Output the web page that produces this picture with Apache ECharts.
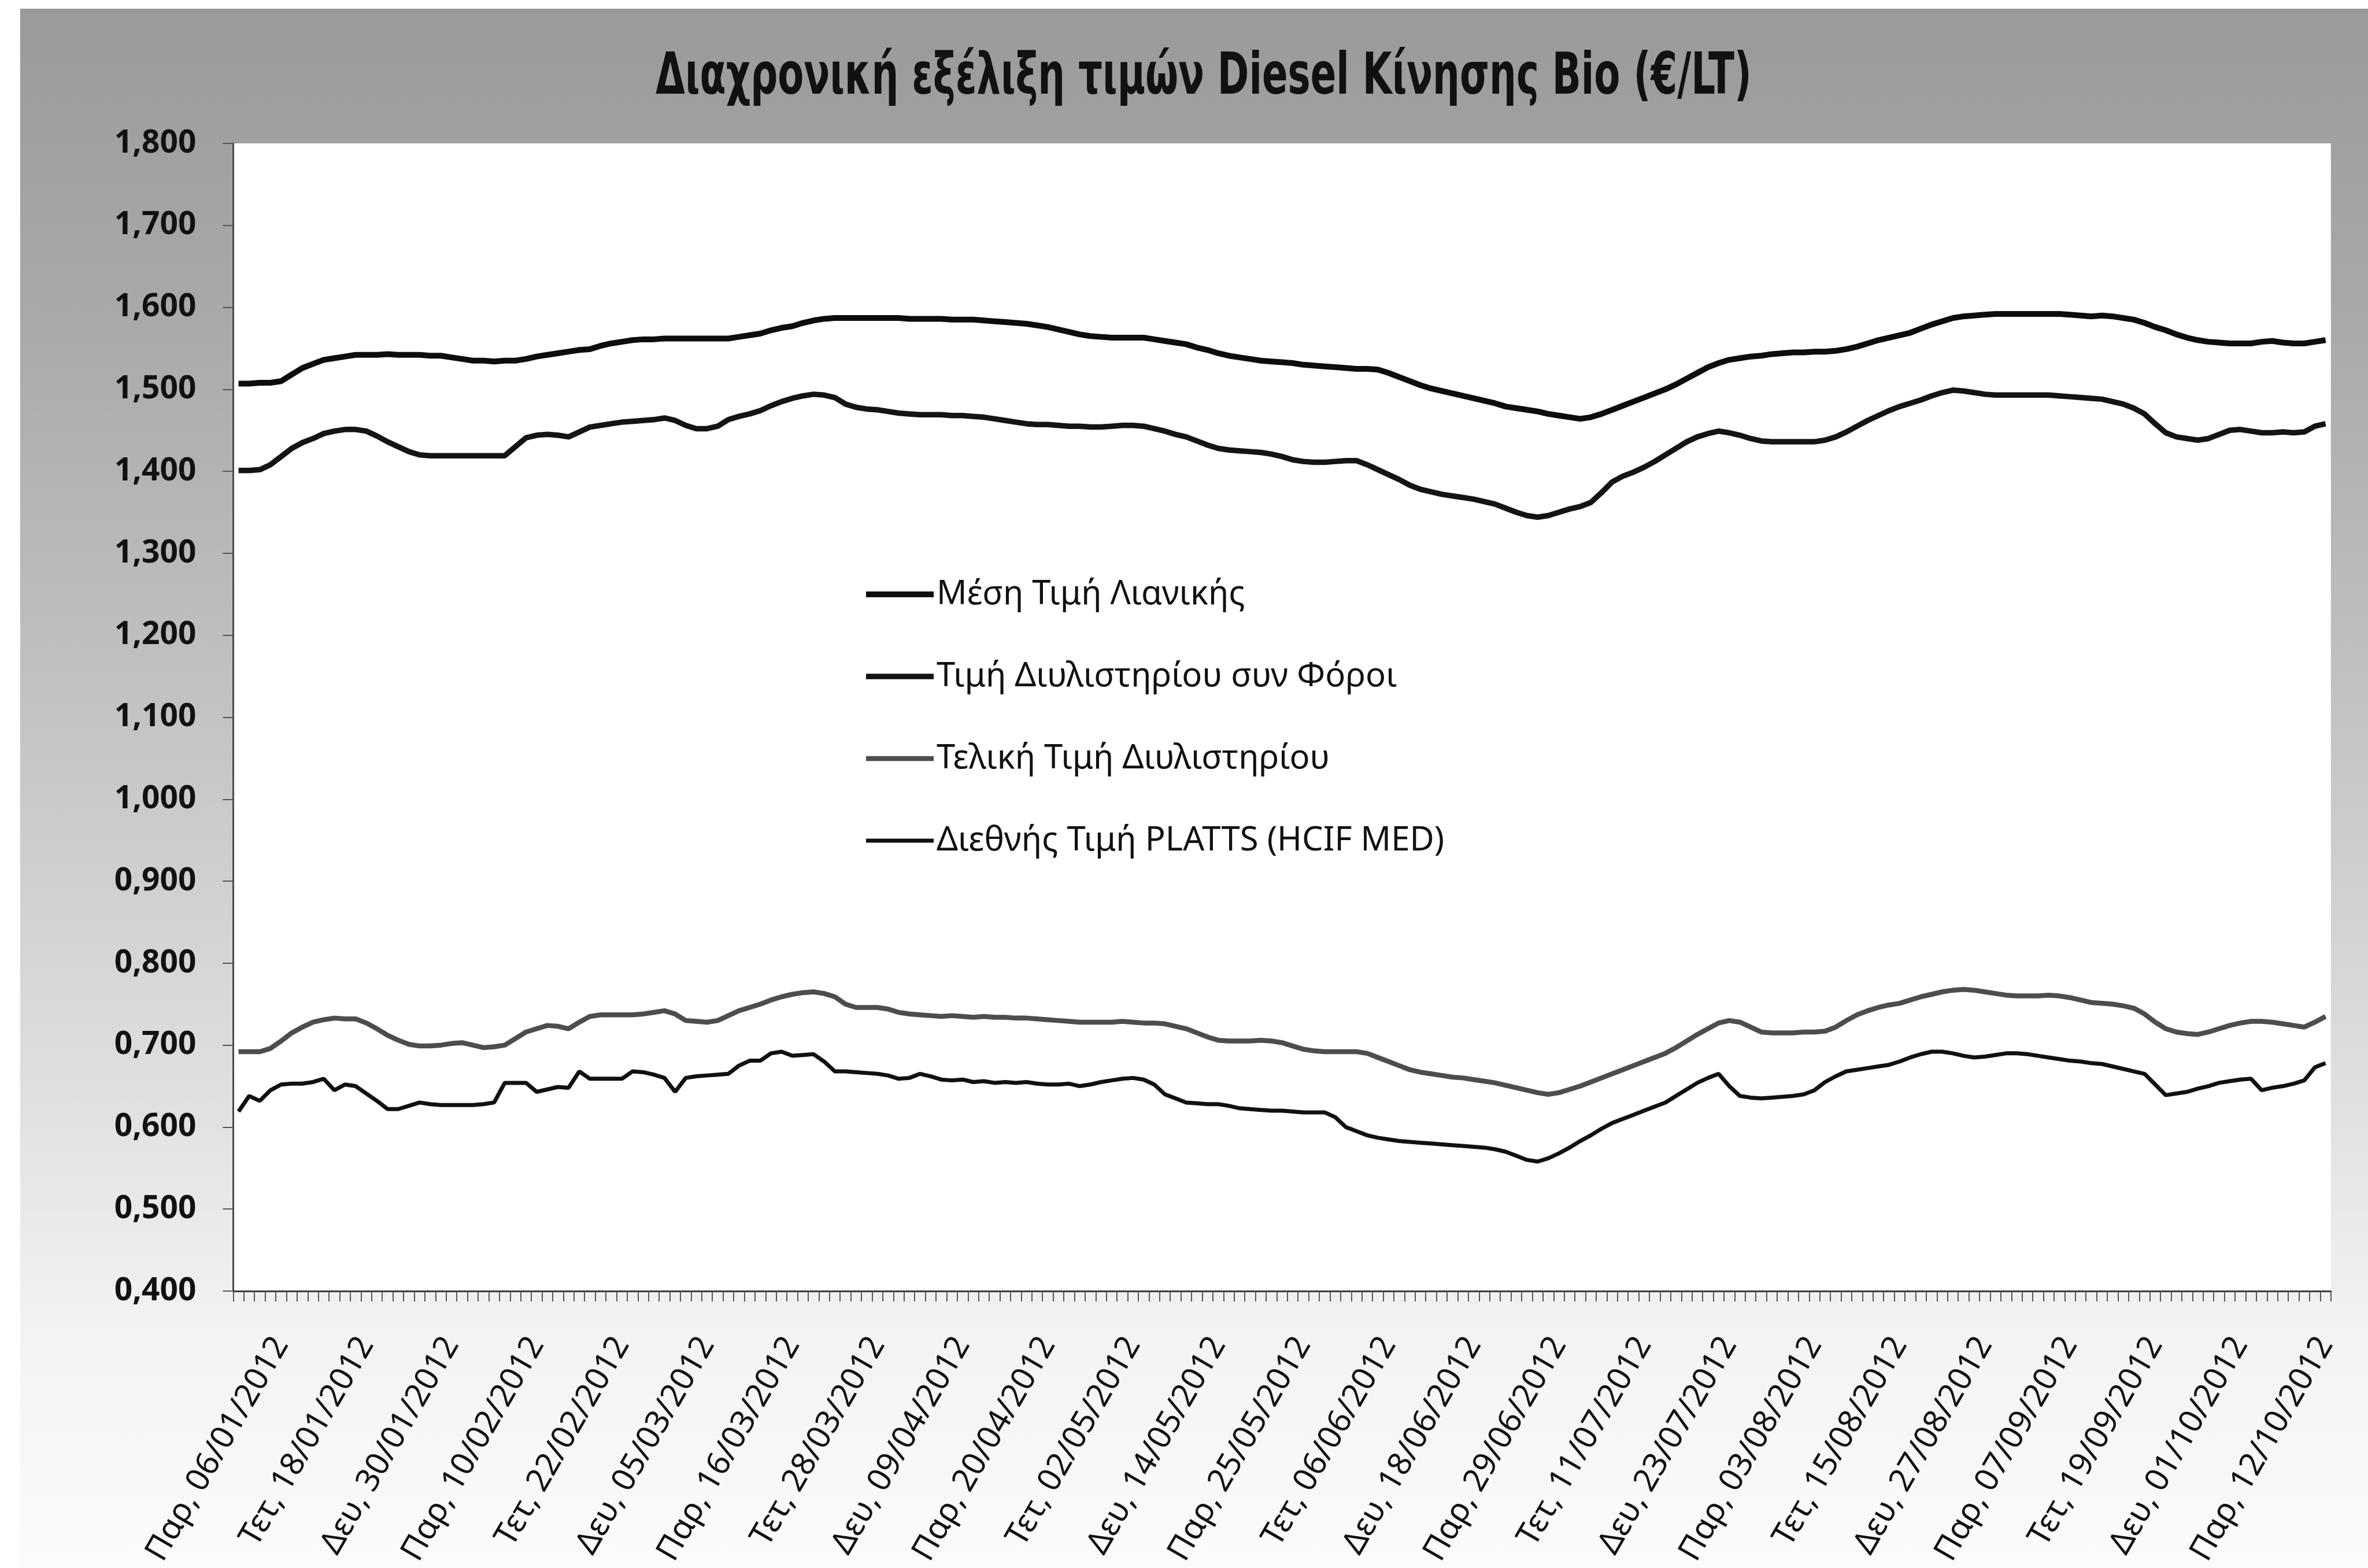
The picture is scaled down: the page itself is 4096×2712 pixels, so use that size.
<!DOCTYPE html>
<html>
<head>
<meta charset="utf-8">
<script src="https://cdn.jsdelivr.net/npm/echarts@6/dist/echarts.min.js"></script>
<style>
html,body{margin:0;padding:0;background:#ffffff;}
#chart{width:4096px;height:2712px;}
</style>
</head>
<body>
<div id="chart"></div>
<script>
// ---------- DATA ----------
const categories = [
'02/01/2012','03/01/2012','04/01/2012','05/01/2012',
'06/01/2012','09/01/2012','10/01/2012','11/01/2012','12/01/2012','13/01/2012','16/01/2012','17/01/2012',
'18/01/2012','19/01/2012','20/01/2012','23/01/2012','24/01/2012','25/01/2012','26/01/2012','27/01/2012',
'30/01/2012','31/01/2012','01/02/2012','02/02/2012','03/02/2012','06/02/2012','07/02/2012','08/02/2012',
'10/02/2012','13/02/2012','14/02/2012','15/02/2012','16/02/2012','17/02/2012','20/02/2012','21/02/2012',
'22/02/2012','23/02/2012','24/02/2012','27/02/2012','28/02/2012','29/02/2012','01/03/2012','02/03/2012',
'05/03/2012','06/03/2012','07/03/2012','08/03/2012','09/03/2012','12/03/2012','13/03/2012','14/03/2012',
'16/03/2012','19/03/2012','20/03/2012','21/03/2012','22/03/2012','23/03/2012','26/03/2012','27/03/2012',
'28/03/2012','29/03/2012','30/03/2012','02/04/2012','03/04/2012','04/04/2012','05/04/2012','06/04/2012',
'09/04/2012','10/04/2012','11/04/2012','12/04/2012','13/04/2012','17/04/2012','18/04/2012','19/04/2012',
'20/04/2012','23/04/2012','24/04/2012','25/04/2012','26/04/2012','27/04/2012','30/04/2012','01/05/2012',
'02/05/2012','03/05/2012','04/05/2012','07/05/2012','08/05/2012','09/05/2012','10/05/2012','11/05/2012',
'14/05/2012','15/05/2012','16/05/2012','17/05/2012','18/05/2012','21/05/2012','22/05/2012','23/05/2012',
'25/05/2012','28/05/2012','29/05/2012','30/05/2012','31/05/2012','01/06/2012','04/06/2012','05/06/2012',
'06/06/2012','07/06/2012','08/06/2012','11/06/2012','12/06/2012','13/06/2012','14/06/2012','15/06/2012',
'18/06/2012','19/06/2012','20/06/2012','21/06/2012','22/06/2012','25/06/2012','26/06/2012','27/06/2012',
'29/06/2012','02/07/2012','03/07/2012','04/07/2012','05/07/2012','06/07/2012','09/07/2012','10/07/2012',
'11/07/2012','12/07/2012','13/07/2012','16/07/2012','17/07/2012','18/07/2012','19/07/2012','20/07/2012',
'23/07/2012','24/07/2012','25/07/2012','26/07/2012','27/07/2012','30/07/2012','31/07/2012','01/08/2012',
'03/08/2012','06/08/2012','07/08/2012','08/08/2012','09/08/2012','10/08/2012','13/08/2012','14/08/2012',
'15/08/2012','16/08/2012','17/08/2012','20/08/2012','21/08/2012','22/08/2012','23/08/2012','24/08/2012',
'27/08/2012','28/08/2012','29/08/2012','30/08/2012','31/08/2012','03/09/2012','04/09/2012','05/09/2012',
'07/09/2012','10/09/2012','11/09/2012','12/09/2012','13/09/2012','14/09/2012','17/09/2012','18/09/2012',
'19/09/2012','20/09/2012','21/09/2012','24/09/2012','25/09/2012','26/09/2012','27/09/2012','28/09/2012',
'01/10/2012','02/10/2012','03/10/2012','04/10/2012','05/10/2012','08/10/2012','09/10/2012','10/10/2012',
'12/10/2012'
];

const weekdayNames = ['Κυρ','Δευ','Τρι','Τετ','Πεμ','Παρ','Σαβ'];

const seriesNames = [
'Μέση Τιμή Λιανικής',
'Τιμή Διυλιστηρίου συν Φόροι',
'Τελική Τιμή Διυλιστηρίου',
'Διεθνής Τιμή PLATTS (HCIF MED)'
];

const retailAvg = [
1.507,1.507,1.508,1.508,1.510, 1.518,1.526,1.531,1.536,1.538,
1.540,1.542,1.542,1.542,1.543, 1.542,1.542,1.542,1.541,1.541,
1.539,1.537,1.535,1.535,1.534, 1.535,1.535,1.537,1.540,1.542,
1.544,1.546,1.548,1.549,1.553, 1.556,1.558,1.560,1.561,1.561,
1.562,1.562,1.562,1.562,1.562, 1.562,1.562,1.564,1.566,1.568,
1.572,1.575,1.577,1.581,1.584, 1.586,1.587,1.587,1.587,1.587,
1.587,1.587,1.587,1.586,1.586, 1.586,1.586,1.585,1.585,1.585,
1.584,1.583,1.582,1.581,1.580, 1.578,1.576,1.573,1.570,1.567,
1.565,1.564,1.563,1.563,1.563, 1.563,1.561,1.559,1.557,1.555,
1.551,1.548,1.544,1.541,1.539, 1.537,1.535,1.534,1.533,1.532,
1.530,1.529,1.528,1.527,1.526, 1.525,1.525,1.524,1.520,1.515,
1.510,1.505,1.501,1.498,1.495, 1.492,1.489,1.486,1.483,1.479,
1.477,1.475,1.473,1.470,1.468, 1.466,1.464,1.466,1.470,1.475,
1.480,1.485,1.490,1.495,1.500, 1.506,1.513,1.520,1.527,1.532,
1.536,1.538,1.540,1.541,1.543, 1.544,1.545,1.545,1.546,1.546,
1.547,1.549,1.552,1.556,1.560, 1.563,1.566,1.569,1.574,1.579,
1.583,1.587,1.589,1.590,1.591, 1.592,1.592,1.592,1.592,1.592,
1.592,1.592,1.591,1.590,1.589, 1.590,1.589,1.587,1.585,1.581,
1.576,1.572,1.567,1.563,1.560, 1.558,1.557,1.556,1.556,1.556,
1.558,1.559,1.557,1.556,1.556, 1.558,1.560
];

const refineryPlusTax = [
1.401,1.401,1.402,1.408,1.418, 1.428,1.435,1.440,1.446,1.449,
1.451,1.451,1.449,1.443,1.436, 1.430,1.424,1.420,1.419,1.419,
1.419,1.419,1.419,1.419,1.419, 1.419,1.430,1.441,1.444,1.445,
1.444,1.442,1.448,1.454,1.456, 1.458,1.460,1.461,1.462,1.463,
1.465,1.462,1.456,1.452,1.452, 1.455,1.463,1.467,1.470,1.474,
1.480,1.485,1.489,1.492,1.494, 1.493,1.490,1.482,1.478,1.476,
1.475,1.473,1.471,1.470,1.469, 1.469,1.469,1.468,1.468,1.467,
1.466,1.464,1.462,1.460,1.458, 1.457,1.457,1.456,1.455,1.455,
1.454,1.454,1.455,1.456,1.456, 1.455,1.452,1.449,1.445,1.442,
1.437,1.432,1.428,1.426,1.425, 1.424,1.423,1.421,1.418,1.414,
1.412,1.411,1.411,1.412,1.413, 1.413,1.408,1.402,1.396,1.390,
1.383,1.378,1.375,1.372,1.370, 1.368,1.366,1.363,1.360,1.355,
1.350,1.346,1.344,1.346,1.350, 1.354,1.357,1.362,1.374,1.387,
1.394,1.399,1.405,1.412,1.420, 1.428,1.436,1.442,1.446,1.449,
1.447,1.444,1.440,1.437,1.436, 1.436,1.436,1.436,1.436,1.438,
1.442,1.448,1.455,1.462,1.468, 1.474,1.479,1.483,1.487,1.492,
1.496,1.499,1.498,1.496,1.494, 1.493,1.493,1.493,1.493,1.493,
1.493,1.492,1.491,1.490,1.489, 1.488,1.485,1.482,1.477,1.470,
1.458,1.447,1.442,1.440,1.438, 1.440,1.445,1.450,1.451,1.449,
1.447,1.447,1.448,1.447,1.448, 1.455,1.458
];

const refineryFinal = [
0.692,0.692,0.692,0.696,0.705, 0.715,0.722,0.728,0.731,0.733,
0.732,0.732,0.727,0.720,0.712, 0.706,0.701,0.699,0.699,0.700,
0.702,0.703,0.700,0.697,0.698, 0.700,0.708,0.716,0.720,0.724,
0.723,0.720,0.728,0.735,0.737, 0.737,0.737,0.737,0.738,0.740,
0.742,0.738,0.730,0.729,0.728, 0.730,0.736,0.742,0.746,0.750,
0.755,0.759,0.762,0.764,0.765, 0.763,0.759,0.750,0.746,0.746,
0.746,0.744,0.740,0.738,0.737, 0.736,0.735,0.736,0.735,0.734,
0.735,0.734,0.734,0.733,0.733, 0.732,0.731,0.730,0.729,0.728,
0.728,0.728,0.728,0.729,0.728, 0.727,0.727,0.726,0.723,0.720,
0.715,0.710,0.706,0.705,0.705, 0.705,0.706,0.705,0.703,0.699,
0.695,0.693,0.692,0.692,0.692, 0.692,0.690,0.685,0.680,0.675,
0.670,0.667,0.665,0.663,0.661, 0.660,0.658,0.656,0.654,0.651,
0.648,0.645,0.642,0.640,0.642, 0.646,0.650,0.655,0.660,0.665,
0.670,0.675,0.680,0.685,0.690, 0.697,0.705,0.713,0.720,0.727,
0.730,0.728,0.722,0.716,0.715, 0.715,0.715,0.716,0.716,0.717,
0.722,0.730,0.737,0.742,0.746, 0.749,0.751,0.755,0.759,0.762,
0.765,0.767,0.768,0.767,0.765, 0.763,0.761,0.760,0.760,0.760,
0.761,0.760,0.758,0.755,0.752, 0.751,0.750,0.748,0.745,0.738,
0.728,0.720,0.716,0.714,0.713, 0.716,0.720,0.724,0.727,0.729,
0.729,0.728,0.726,0.724,0.722, 0.728,0.735
];

const plattsIntl = [
0.619,0.638,0.632,0.645,0.652, 0.653,0.653,0.655,0.659,0.645,
0.652,0.650,0.641,0.632,0.622, 0.622,0.626,0.630,0.628,0.627,
0.627,0.627,0.627,0.628,0.630, 0.654,0.654,0.654,0.643,0.646,
0.649,0.648,0.668,0.659,0.659, 0.659,0.659,0.668,0.667,0.664,
0.660,0.643,0.660,0.662,0.663, 0.664,0.665,0.675,0.681,0.681,
0.690,0.692,0.687,0.688,0.689, 0.680,0.668,0.668,0.667,0.666,
0.665,0.663,0.659,0.660,0.665, 0.662,0.658,0.657,0.658,0.655,
0.656,0.654,0.655,0.654,0.655, 0.653,0.652,0.652,0.653,0.650,
0.652,0.655,0.657,0.659,0.660, 0.658,0.652,0.640,0.635,0.630,
0.629,0.628,0.628,0.626,0.623, 0.622,0.621,0.620,0.620,0.619,
0.618,0.618,0.618,0.612,0.600, 0.595,0.590,0.587,0.585,0.583,
0.582,0.581,0.580,0.579,0.578, 0.577,0.576,0.575,0.573,0.570,
0.565,0.560,0.558,0.562,0.568, 0.575,0.583,0.590,0.598,0.605,
0.610,0.615,0.620,0.625,0.630, 0.638,0.646,0.654,0.660,0.665,
0.650,0.638,0.636,0.635,0.636, 0.637,0.638,0.640,0.645,0.655,
0.662,0.668,0.670,0.672,0.674, 0.676,0.680,0.685,0.689,0.692,
0.692,0.690,0.687,0.685,0.686, 0.688,0.690,0.690,0.689,0.687,
0.685,0.683,0.681,0.680,0.678, 0.677,0.674,0.671,0.668,0.665,
0.652,0.639,0.641,0.643,0.647, 0.650,0.654,0.656,0.658,0.659,
0.645,0.648,0.650,0.653,0.657, 0.673,0.678
];

const yTickMin = 0.4, yTickMax = 1.8, yTickStep = 0.1;
const titleText = 'Διαχρονική εξέλιξη τιμών Diesel Κίνησης Bio (€/LT)';

// ---------- CHART ----------
const S = 0.996;
const chart = echarts.init(document.getElementById('chart'), null, {renderer: 'canvas'});

function fmtLabel(v) {
  const p = v.split('/');
  const d = new Date(+p[2], +p[1] - 1, +p[0]);
  return weekdayNames[d.getDay()] + ', ' + v;
}

const lineColors = ['#0d0d0d', '#141414', '#4d4d4d', '#111111'];
const lineWidths = [10, 9.5, 8.5, 7];
const seriesData = [retailAvg, refineryPlusTax, refineryFinal, plattsIntl];

const option = {
  animation: false,
  backgroundColor: '#ffffff',
  graphic: [{
    type: 'rect', z: -100, silent: true,
    shape: {x: 35 * S, y: 15 * S, width: 4096 - 35 * S, height: 2712 - 15 * S},
    style: {
      fill: new echarts.graphic.LinearGradient(0, 0, 0, 1, [
        {offset: 0, color: '#9a9a9a'},
        {offset: 0.2, color: '#a9a9a9'},
        {offset: 0.45, color: '#c3c3c3'},
        {offset: 0.7, color: '#e0e0e0'},
        {offset: 0.85, color: '#f3f3f3'},
        {offset: 1, color: '#fbfbfb'}
      ])
    }
  }, {
    type: 'text', z: 100, silent: true,
    x: 2082, y: 136, scaleX: 0.87, scaleY: 1.18,
    style: {
      text: titleText,
      font: "bold 84px 'DejaVu Sans Condensed', sans-serif",
      fill: '#111111',
      textAlign: 'center',
      textVerticalAlign: 'middle'
    }
  }],
  legend: {
    orient: 'vertical',
    left: 1488,
    top: 1023 - 29,
    itemWidth: 117,
    itemHeight: 30,
    itemGap: 84,
    textStyle: {fontFamily: "'Noto Sans', sans-serif", fontSize: 58, color: '#111', lineHeight: 58},
    data: seriesNames.map((n, i) => ({
      name: n,
      itemStyle: {opacity: 0},
      lineStyle: {color: lineColors[i], width: lineWidths[i], opacity: 1}
    }))
  },
  grid: {
    left: 405 * S, right: 4096 - 4048 * S, top: 249 * S, bottom: 2712 - 2246 * S,
    show: true, backgroundColor: '#ffffff', borderWidth: 0
  },
  xAxis: {
    type: 'category',
    data: categories,
    boundaryGap: true,
    axisLine: {lineStyle: {color: '#3a3a3a', width: 3}},
    axisTick: {show: true, interval: 0, length: 18, lineStyle: {color: '#555', width: 2}},
    axisLabel: {
      interval: (idx) => idx % 8 === 4,
      rotate: 60,
      margin: 84,
      fontFamily: "'Noto Sans', sans-serif",
      fontSize: 56,
      color: '#111',
      formatter: fmtLabel
    },
    splitLine: {show: false}
  },
  yAxis: {
    type: 'value',
    min: yTickMin, max: yTickMax, interval: yTickStep,
    axisLine: {show: true, lineStyle: {color: '#4a4a4a', width: 3}},
    axisTick: {show: true, length: 18, lineStyle: {color: '#555', width: 2}},
    axisLabel: {
      margin: 64,
      fontFamily: "'Noto Sans', sans-serif",
      fontWeight: 'bold',
      fontSize: 55,
      color: '#111',
      formatter: (v) => v.toFixed(3).replace('.', ',')
    },
    splitLine: {show: false}
  },
  series: seriesNames.map((n, i) => ({
    name: n,
    type: 'line',
    data: seriesData[i],
    symbol: 'none',
    smooth: false,
    z: 10 - i,
    lineStyle: {color: lineColors[i], width: lineWidths[i]},
    itemStyle: {color: lineColors[i]}
  }))
};
chart.setOption(option);
</script>
</body>
</html>
